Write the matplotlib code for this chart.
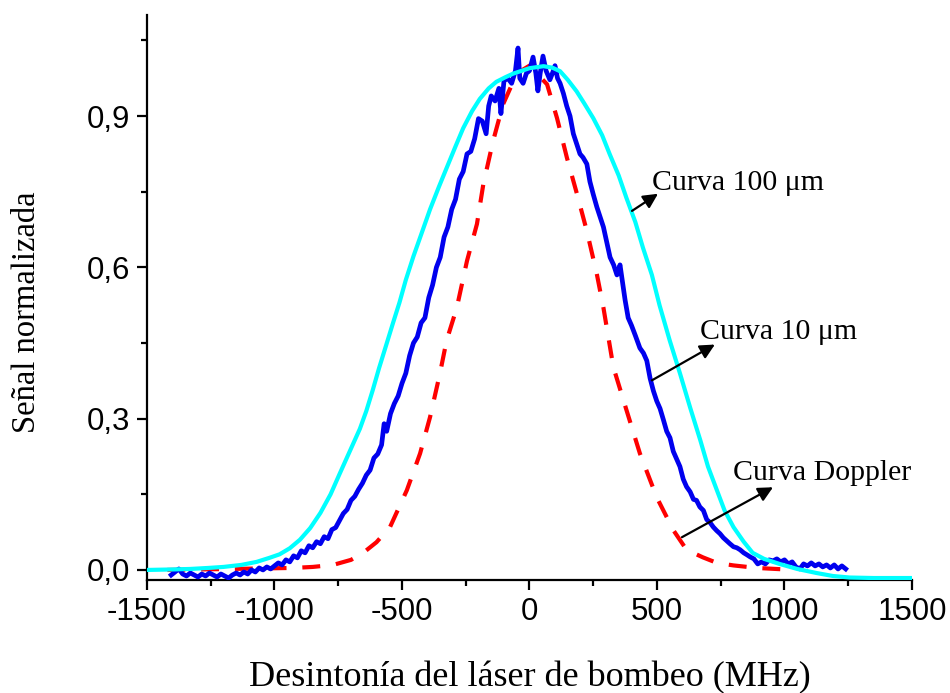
import matplotlib
matplotlib.use("Agg")
import matplotlib.pyplot as plt
from matplotlib.ticker import MultipleLocator, FuncFormatter

# ---------------- data ----------------
# Curva 100 um (cyan)
cyan_x = [-1500, -1400, -1330, -1260, -1200, -1130, -1070, -1020, -980, -940, -900, -860,
          -820, -780, -745, -705, -665, -640, -615, -590, -560, -535, -510, -485, -455,
          -420, -390, -355, -325, -290, -260, -225, -195, -160, -130, -95, -65, -30, 0,
          55, 90, 120, 150, 185, 215, 250, 285, 315, 350, 380, 415, 445, 480, 510, 550,
          590, 630, 670, 700, 735, 765, 800, 840, 875, 920, 980, 1050, 1125, 1190, 1255,
          1350, 1500]
cyan_y = [0.000, 0.001, 0.002, 0.004, 0.006, 0.010, 0.016, 0.024, 0.031, 0.043, 0.060,
          0.083, 0.113, 0.150, 0.190, 0.235, 0.280, 0.315, 0.356, 0.400, 0.449, 0.490,
          0.530, 0.575, 0.622, 0.672, 0.715, 0.760, 0.797, 0.840, 0.876, 0.910, 0.934,
          0.955, 0.968, 0.977, 0.984, 0.990, 0.995, 0.999, 0.996, 0.989, 0.972, 0.949,
          0.925, 0.896, 0.862, 0.824, 0.782, 0.738, 0.690, 0.639, 0.585, 0.525, 0.455,
          0.390, 0.322, 0.257, 0.205, 0.158, 0.118, 0.085, 0.056, 0.034, 0.022, 0.012,
          0.002, -0.006, -0.012, -0.015, -0.016, -0.016]

# Curva Doppler (red dashed)
red_x = [-1420, -927, -850, -770, -700, -652, -600, -547, -481, -429, -390, -351, -325,
         -285, -245, -206, -181, -143, -104, -49, 0, 69, 108, 147, 186, 225, 264, 290,
         329, 381, 433, 499, 564, 616, 680, 735, 800, 891, 1040]
red_y = [0.0, 0.004, 0.006, 0.01, 0.02, 0.034, 0.055, 0.085, 0.158, 0.231, 0.303, 0.39,
         0.455, 0.52, 0.613, 0.686, 0.765, 0.85, 0.923, 0.985, 1.0, 0.963, 0.896, 0.817,
         0.746, 0.672, 0.587, 0.52, 0.402, 0.316, 0.231, 0.144, 0.079, 0.04, 0.025,
         0.014, 0.009, 0.004, 0.0]

# Curva 10 um (blue, noisy measurement)
blue_x = [-1405, -1390, -1375, -1360, -1345, -1330, -1315, -1300, -1285, -1270, -1255,
          -1240, -1225, -1210, -1195, -1180, -1165, -1150, -1135, -1120, -1105, -1090,
          -1075, -1060, -1045, -1030, -1015, -1000,
          -985, -970, -955, -940, -925, -910, -895, -880, -865, -850, -835, -820, -805,
          -790, -775, -760, -745, -730, -715, -700, -685, -670, -655, -640, -625, -610,
          -595, -580,
          -570, -560, -545, -530, -515, -500, -485, -470, -455, -440, -425, -410, -395,
          -380, -365, -350, -335, -320, -305, -290, -275, -260, -245, -230, -215, -200,
          -185, -170, -160, -150, -135, -120, -112, -100, -85, -70, -55, -45, -38, -25,
          -12, 0, 14, 25, 33, 42, 53, 65, 80, 90, 100, 110, 120, 133, 146, 159, 172, 185,
          198, 210, 225, 237, 250, 264, 277, 290, 303, 316, 330, 343, 355, 365, 375, 387,
          400, 415, 433, 447, 460, 473, 486, 499, 512, 525, 538, 551, 564, 577, 590, 603,
          616, 630, 643, 655, 668, 682, 695, 708, 721, 734, 747, 760, 773, 786, 800, 813,
          826, 840, 853, 865, 880, 895, 910, 925, 940, 955, 970, 985, 1000, 1015, 1030,
          1045, 1060, 1075, 1090, 1105, 1120, 1135, 1150, 1165, 1180, 1195, 1210, 1225,
          1240]
blue_y = [-0.010, -0.004, 0.002, -0.008, -0.012, -0.006, -0.010, -0.014, -0.008, -0.012,
          -0.006, -0.010, -0.014, -0.008, -0.012, -0.016, -0.010, -0.006, -0.010, -0.004,
          -0.008, 0.000, -0.004, 0.004, 0.000, 0.006, 0.002, 0.008,
          0.014, 0.010, 0.020, 0.016, 0.028, 0.024, 0.038, 0.034, 0.048, 0.044, 0.056,
          0.052, 0.066, 0.062, 0.080, 0.084, 0.098, 0.112, 0.120, 0.138, 0.146, 0.160,
          0.172, 0.188, 0.198, 0.222, 0.230, 0.248,
          0.290, 0.275, 0.310, 0.330, 0.345, 0.370, 0.390, 0.425, 0.450, 0.462, 0.490,
          0.500, 0.540, 0.565, 0.600, 0.620, 0.660, 0.680, 0.715, 0.735, 0.775, 0.790,
          0.825, 0.830, 0.855, 0.895, 0.890, 0.865, 0.920, 0.940, 0.930, 0.955, 0.905,
          0.970, 0.975, 0.965, 0.990, 1.035, 0.975, 0.965, 0.985, 0.990, 1.017, 0.985,
          0.950, 0.985, 1.019, 0.990, 0.972, 0.985, 1.000, 0.975, 0.965, 0.945, 0.920,
          0.900, 0.865, 0.845, 0.825, 0.818, 0.805, 0.770, 0.745, 0.720, 0.700, 0.680,
          0.650, 0.620, 0.605, 0.585, 0.605, 0.570, 0.535, 0.500, 0.485, 0.465, 0.440,
          0.430, 0.415, 0.380, 0.355, 0.335, 0.320, 0.298, 0.275, 0.262, 0.235, 0.220,
          0.205, 0.180, 0.165, 0.155, 0.140, 0.138, 0.125, 0.118, 0.100, 0.094, 0.085,
          0.078, 0.072, 0.064, 0.058, 0.052, 0.046, 0.044, 0.040, 0.034, 0.030, 0.026,
          0.022, 0.012, 0.016, 0.012, 0.020, 0.018, 0.022, 0.016, 0.020, 0.012, 0.016,
          0.006, 0.002, 0.012, 0.008, 0.014, 0.008, 0.012, 0.006, 0.010, 0.004, 0.010,
          0.002, 0.008, 0.002]
assert len(blue_x) == len(blue_y)

x_ticks = [-1500, -1000, -500, 0, 500, 1000, 1500]
y_ticks = [0.0, 0.3, 0.6, 0.9]

x_title = "Desintonía del láser de bombeo (MHz)"
y_title = "Señal normalizada"
labels = ["Curva 100 \u03bcm", "Curva 10 \u03bcm", "Curva Doppler"]
label_xy = [(480, 0.767), (669, 0.471), (798, 0.192)]
arrow_tail = [(402, 0.712), (480, 0.376), (598, 0.065)]
arrow_head = [(504, 0.746), (727, 0.447), (955, 0.164)]

# ---------------- figure ----------------
fig = plt.figure(figsize=(9.5, 6.93), dpi=100)
ax = fig.add_axes([0.1547, 0.163, 0.8053, 0.815])

ax.plot(red_x, red_y, color="#ff0000", lw=3, dashes=(4.3, 3.8), zorder=2)
ax.plot(blue_x, blue_y, color="#0000ee", lw=3.4, zorder=3)
ax.plot(cyan_x, cyan_y, color="#00ffff", lw=3, zorder=4)

ax.set_xlim(-1500, 1500)
ax.set_ylim(-0.02, 1.1)
ax.set_xticks(x_ticks)
ax.set_yticks(y_ticks)
ax.xaxis.set_minor_locator(MultipleLocator(250))
ax.yaxis.set_minor_locator(MultipleLocator(0.15))
ax.xaxis.set_major_formatter(FuncFormatter(lambda v, p: "%d" % v))
ax.yaxis.set_major_formatter(FuncFormatter(lambda v, p: ("%.1f" % v).replace(".", ",")))

for s in ["top", "right"]:
    ax.spines[s].set_visible(False)
for s in ["left", "bottom"]:
    ax.spines[s].set_linewidth(1.6)

ax.tick_params(which="major", direction="out", length=7, width=1.6,
               labelsize=22.5, pad=5)
ax.tick_params(which="minor", direction="out", length=4, width=1.6)
for lab in ax.get_xticklabels() + ax.get_yticklabels():
    lab.set_family("Liberation Sans")

serif = "Liberation Serif"
fig.text(530 / 950, 1 - 678 / 693, x_title, family=serif, fontsize=26,
         ha="center", va="center")
fig.text(27 / 950, 1 - 312 / 693, y_title, family=serif, fontsize=23.5,
         ha="center", va="center", rotation=90)

for txt, pos, t, h in zip(labels, label_xy, arrow_tail, arrow_head):
    ax.text(pos[0], pos[1], txt, family=serif, fontsize=21.5, ha="left", va="center",
            zorder=6)
    ax.annotate("", xy=h, xytext=t,
                arrowprops=dict(arrowstyle="-|>", color="black", lw=1.6,
                                mutation_scale=22, shrinkA=0, shrinkB=0),
                zorder=6)

fig.savefig("out.png", dpi=100)
